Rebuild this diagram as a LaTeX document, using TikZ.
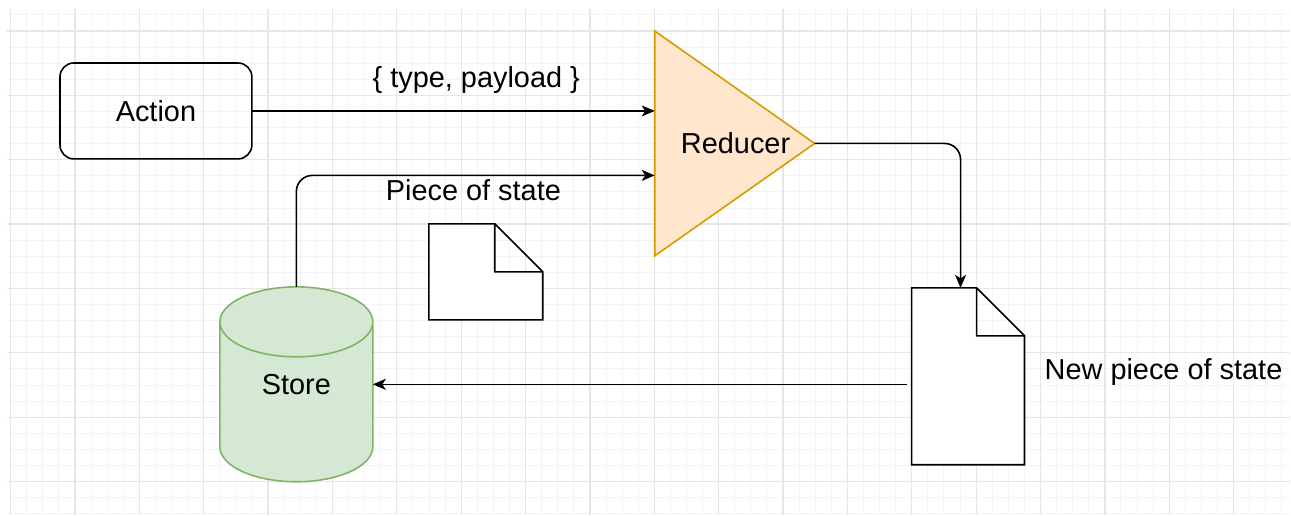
\documentclass[tikz,border=0pt]{standalone}
\usepackage{fontspec}
\setmainfont{Liberation Sans}
\usetikzlibrary{shapes.geometric, arrows.meta}

\definecolor{reducerfill}{HTML}{FFE6CC}
\definecolor{reducerline}{HTML}{D79B00}
\definecolor{storefill}{HTML}{D5E8D4}
\definecolor{storeline}{HTML}{82B366}
\definecolor{gridminor}{HTML}{F4F4F4}
\definecolor{gridmajor}{HTML}{E6E6E6}

\begin{document}
\begin{tikzpicture}[x=1pt, y=-1pt, font=\fontsize{28.9}{34}\selectfont,
    >={Stealth[length=13pt, width=11pt, inset=3.5pt]},
    flow/.style={->, line width=1.6pt, rounded corners=16pt},
    actionbox/.style={draw, line width=1.6pt, rounded corners=14pt, minimum width=192pt, minimum height=96pt, inner sep=0pt, outer sep=0pt},
    reducerbox/.style={isosceles triangle, isosceles triangle stretches, draw=reducerline, fill=reducerfill, line width=1.6pt, minimum width=225pt, minimum height=160pt, inner sep=0pt, outer sep=0pt},
    storebox/.style={minimum width=153pt, minimum height=195pt, inner sep=0pt, outer sep=0pt,
      append after command={\pgfextra{
        \draw[draw=storeline, fill=storefill, line width=1.6pt]
          ([yshift=-35pt]\tikzlastnode.north west) -- ([yshift=35pt]\tikzlastnode.south west)
          arc[start angle=180, end angle=360, x radius=76.5pt, y radius=35pt]
          -- ([yshift=-35pt]\tikzlastnode.north east)
          arc[start angle=0, end angle=180, x radius=76.5pt, y radius=35pt] -- cycle
          ([yshift=-35pt]\tikzlastnode.north west)
          arc[start angle=180, end angle=360, x radius=76.5pt, y radius=35pt];
      }}},
    page/.style={minimum width=#1, inner sep=0pt, outer sep=0pt},
    textlabel/.style={inner sep=0pt}]
  % grid
  \fill[white] (0,0) rectangle (1291,515);
  \foreach \k in {0,...,79}
    \draw[gridminor, line width=1pt] ({10.6+16.1*\k},9) -- ({10.6+16.1*\k},515);
  \foreach \k in {0,...,31}
    \draw[gridminor, line width=1pt] (7,{14.9+16.1*\k}) -- (1291,{14.9+16.1*\k});
  \foreach \k in {0,...,19}
    \draw[gridmajor, line width=1.2pt] ({10.6+64.4*\k},9) -- ({10.6+64.4*\k},515);
  \foreach \k in {0,...,7}
    \draw[gridmajor, line width=1.2pt] (7,{31+64.4*\k}) -- (1291,{31+64.4*\k});
  \useasboundingbox (0,0) rectangle (1291,515);

  \node[actionbox] (action) at (156,111) {Action};
  \node[reducerbox, anchor=lower side, label={[textlabel, xshift=22.5pt]center:Reducer}] (reducer) at (655,143.5) {};
  \node[storebox, label={[textlabel]center:Store}] (store) at (296.5,384.5) {};
  \node[page=114pt, minimum height=96pt] (piece) at (486,272) {};
  \node[page=113pt, minimum height=177pt] (newpiece) at (968.5,376.5) {};
  \node[textlabel, anchor=base west] (newlabel) at ([xshift=20pt, yshift=-3.5pt]newpiece.east) {New piece of state};

  % documents with folded corner
  \foreach \d in {piece, newpiece}
    \draw[line width=1.6pt, fill=white] (\d.north west) -- ([xshift=-48pt]\d.north east) -- ([yshift=-48pt]\d.north east)
      -- (\d.south east) -- (\d.south west) -- cycle
      ([xshift=-48pt]\d.north east) |- ([yshift=-48pt]\d.north east);

  \draw[flow] (action.east) -- node[textlabel, anchor=base, pos=0.557, yshift=23pt] {\{ type, payload \}} (action.east -| reducer.west);
  \draw[flow] (store.north) |- node[textlabel, anchor=base, pos=0.747, yshift=-25pt] {Piece of state} ([yshift=-32pt]reducer.west);
  \draw[flow] (reducer.apex) -| ([xshift=-7.5pt]newpiece.north);
  \draw[flow, shorten <=5pt] (store.east -| newpiece.west) -- (store.east);
\end{tikzpicture}
\end{document}
